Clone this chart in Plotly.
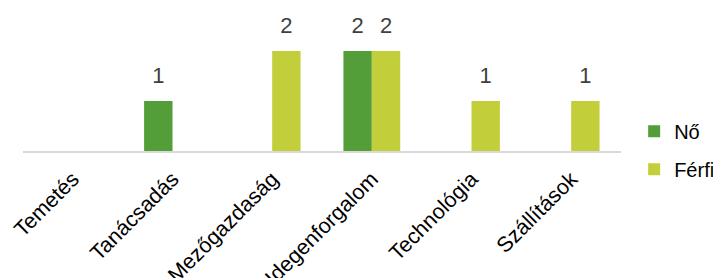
import plotly.graph_objects as go

categories = ["Temetés", "Tanácsadás", "Mezőgazdaság", "Idegenforgalom", "Technológia", "Szállítások"]
no_values = [0, 1, 0, 2, 0, 0]
ferfi_values = [0, 0, 2, 2, 1, 1]
series_names = ["Nő", "Férfi"]
colors = ["#549E39", "#C3CF3A"]


def labels(vals):
    return [str(v) if v else "" for v in vals]


fig = go.Figure()
for name, vals, col in zip(series_names, [no_values, ferfi_values], colors):
    fig.add_trace(go.Bar(
        x=categories, y=vals, name=name, legendgroup=name, offsetgroup=name,
        marker=dict(color=col, line=dict(width=0)),
        hoverinfo="x+y+name",
    ))
for name, vals in zip(series_names, [no_values, ferfi_values]):
    fig.add_trace(go.Scatter(
        x=categories, y=vals, name=name, legendgroup=name, offsetgroup=name,
        mode="markers+text", marker=dict(size=18, opacity=0),
        text=labels(vals), textposition="top center", cliponaxis=False,
        textfont=dict(family="Liberation Sans, Arial", size=22, color="#404040"),
        showlegend=False, hoverinfo="skip",
    ))

fig.update_layout(
    width=713, height=270,
    margin=dict(l=15, r=100, t=1, b=127, autoexpand=False),
    barmode="group", bargap=0.43, bargroupgap=0,
    scattermode="group", scattergap=0.43,
    plot_bgcolor="white", paper_bgcolor="white",
    font=dict(family="Liberation Sans, Arial", size=20, color="#000000"),
    showlegend=True,
    legend=dict(x=1.022, xanchor="left", y=0.005, yanchor="middle",
                traceorder="grouped", tracegroupgap=9,
                font=dict(size=20, color="#000000"), bgcolor="rgba(0,0,0,0)"),
)
fig.update_xaxes(showline=True, linecolor="#D9D9D9", linewidth=2, ticks="",
                 tickangle=-45, showgrid=False, zeroline=False, automargin=False,
                 ticklabelstandoff=5,
                 tickfont=dict(size=21.5, color="#000000"))
fig.update_yaxes(range=[0, 2.84], visible=False, showgrid=False, zeroline=False, automargin=False)

fig.write_html("out.html")
